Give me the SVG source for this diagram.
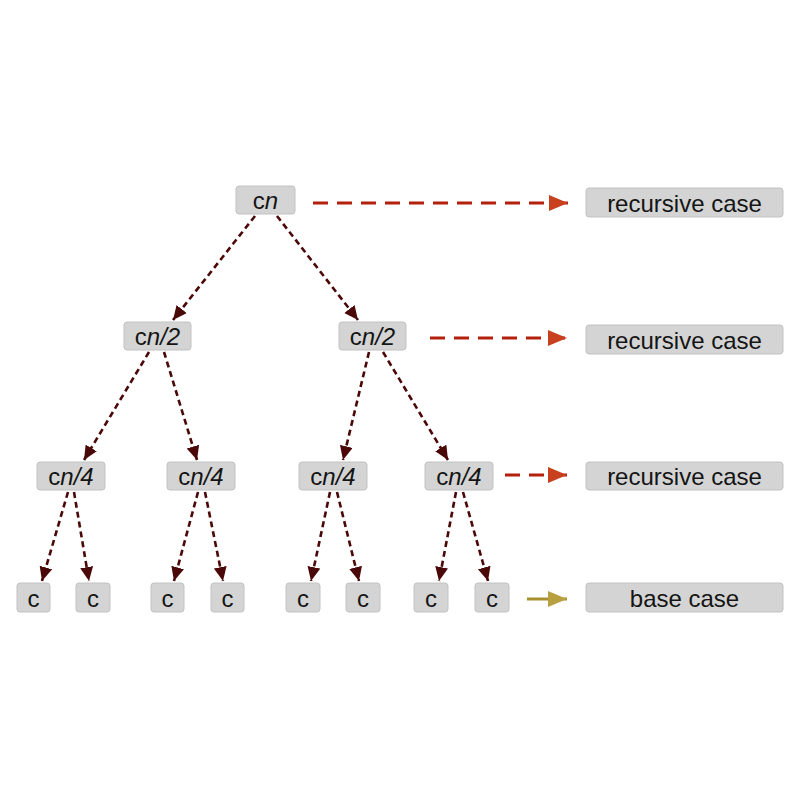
<svg xmlns="http://www.w3.org/2000/svg" width="800" height="800" viewBox="0 0 800 800">
<style>
.box{fill:#d4d4d4;stroke:#c2c2c2;stroke-width:1}
.t{font-family:"Liberation Sans",Arial,sans-serif;font-size:24px;fill:#151515;text-anchor:middle}
.i{font-style:italic}
.tree{stroke:#4a0808;stroke-width:2.6;stroke-dasharray:6 4;fill:none;marker-end:url(#dk)}
.rec{stroke:#b3200c;stroke-width:3;stroke-dasharray:15 9;fill:none;marker-end:url(#rd)}
.base{stroke:#a89030;stroke-width:3;fill:none;marker-end:url(#gd)}
</style>
<defs>
<marker id="dk" markerUnits="userSpaceOnUse" markerWidth="16" markerHeight="14" refX="14" refY="6.5" orient="auto"><path d="M0,0 L14,6.5 L0,13 Z" fill="#4a0808"/></marker>
<marker id="rd" markerUnits="userSpaceOnUse" markerWidth="20" markerHeight="16" refX="19" refY="8" orient="auto"><path d="M0,0 L19,8 L0,16 Z" fill="#c8401e"/></marker>
<marker id="gd" markerUnits="userSpaceOnUse" markerWidth="20" markerHeight="16" refX="19" refY="8" orient="auto"><path d="M0,0 L19,8 L0,16 Z" fill="#b8a040"/></marker>
</defs>
<rect width="800" height="800" fill="#ffffff"/>
<g id="connectors">
<line class="tree" x1="255" y1="216" x2="173" y2="320"/>
<line class="tree" x1="277" y1="216" x2="358" y2="320"/>
<line class="tree" x1="149" y1="352" x2="84" y2="460"/>
<line class="tree" x1="164" y1="352" x2="197" y2="460"/>
<line class="tree" x1="369" y1="352" x2="343" y2="460"/>
<line class="tree" x1="383" y1="352" x2="448" y2="460"/>
<line class="tree" x1="68" y1="492" x2="42" y2="581"/>
<line class="tree" x1="74" y1="492" x2="89" y2="581"/>
<line class="tree" x1="198" y1="492" x2="174" y2="581"/>
<line class="tree" x1="205" y1="492" x2="223" y2="581"/>
<line class="tree" x1="330" y1="492" x2="311" y2="581"/>
<line class="tree" x1="337" y1="492" x2="359" y2="581"/>
<line class="tree" x1="456" y1="492" x2="439" y2="581"/>
<line class="tree" x1="463" y1="492" x2="488" y2="581"/>
<line class="rec" x1="313" y1="203" x2="568" y2="203"/>
<line class="rec" x1="430" y1="338" x2="567" y2="338"/>
<line class="rec" x1="505" y1="475" x2="567" y2="475"/>
<line class="base" x1="527" y1="599" x2="567" y2="599"/>
</g>
<g id="n-cn"><rect class="box" x="236" y="186" width="59" height="28" rx="3"/><text class="t" x="265.5" y="208.5">c<tspan class="i">n</tspan></text></g>
<g id="n-cn2a"><rect class="box" x="124" y="322" width="67" height="28" rx="3"/><text class="t" x="157.5" y="344.5">c<tspan class="i">n/2</tspan></text></g>
<g id="n-cn2b"><rect class="box" x="339" y="322" width="67" height="28" rx="3"/><text class="t" x="372.5" y="344.5">c<tspan class="i">n/2</tspan></text></g>
<g id="n-cn4a"><rect class="box" x="37" y="462" width="68" height="28" rx="3"/><text class="t" x="71" y="484.5">c<tspan class="i">n/4</tspan></text></g>
<g id="n-cn4b"><rect class="box" x="167" y="462" width="68" height="28" rx="3"/><text class="t" x="201" y="484.5">c<tspan class="i">n/4</tspan></text></g>
<g id="n-cn4c"><rect class="box" x="299" y="462" width="68" height="28" rx="3"/><text class="t" x="333" y="484.5">c<tspan class="i">n/4</tspan></text></g>
<g id="n-cn4d"><rect class="box" x="425" y="462" width="68" height="28" rx="3"/><text class="t" x="459" y="484.5">c<tspan class="i">n/4</tspan></text></g>
<g id="n-c1"><rect class="box" x="17" y="583" width="33" height="29" rx="3"/><text class="t" x="33.5" y="606.5">c</text></g>
<g id="n-c2"><rect class="box" x="76" y="583" width="34" height="29" rx="3"/><text class="t" x="93" y="606.5">c</text></g>
<g id="n-c3"><rect class="box" x="151" y="583" width="33" height="29" rx="3"/><text class="t" x="167.5" y="606.5">c</text></g>
<g id="n-c4"><rect class="box" x="211" y="583" width="33" height="29" rx="3"/><text class="t" x="227.5" y="606.5">c</text></g>
<g id="n-c5"><rect class="box" x="286" y="583" width="34" height="29" rx="3"/><text class="t" x="303" y="606.5">c</text></g>
<g id="n-c6"><rect class="box" x="346" y="583" width="34" height="29" rx="3"/><text class="t" x="363" y="606.5">c</text></g>
<g id="n-c7"><rect class="box" x="414" y="583" width="34" height="29" rx="3"/><text class="t" x="431" y="606.5">c</text></g>
<g id="n-c8"><rect class="box" x="475" y="583" width="34" height="29" rx="3"/><text class="t" x="492" y="606.5">c</text></g>
<g id="n-rec1"><rect class="box" x="586" y="188" width="197" height="29" rx="3"/><text class="t" x="684.5" y="211.5">recursive case</text></g>
<g id="n-rec2"><rect class="box" x="586" y="325" width="197" height="29" rx="3"/><text class="t" x="684.5" y="348.5">recursive case</text></g>
<g id="n-rec3"><rect class="box" x="586" y="462" width="197" height="28" rx="3"/><text class="t" x="684.5" y="484.5">recursive case</text></g>
<g id="n-base"><rect class="box" x="586" y="583" width="197" height="29" rx="3"/><text class="t" x="684.5" y="606.5">base case</text></g>
</svg>
